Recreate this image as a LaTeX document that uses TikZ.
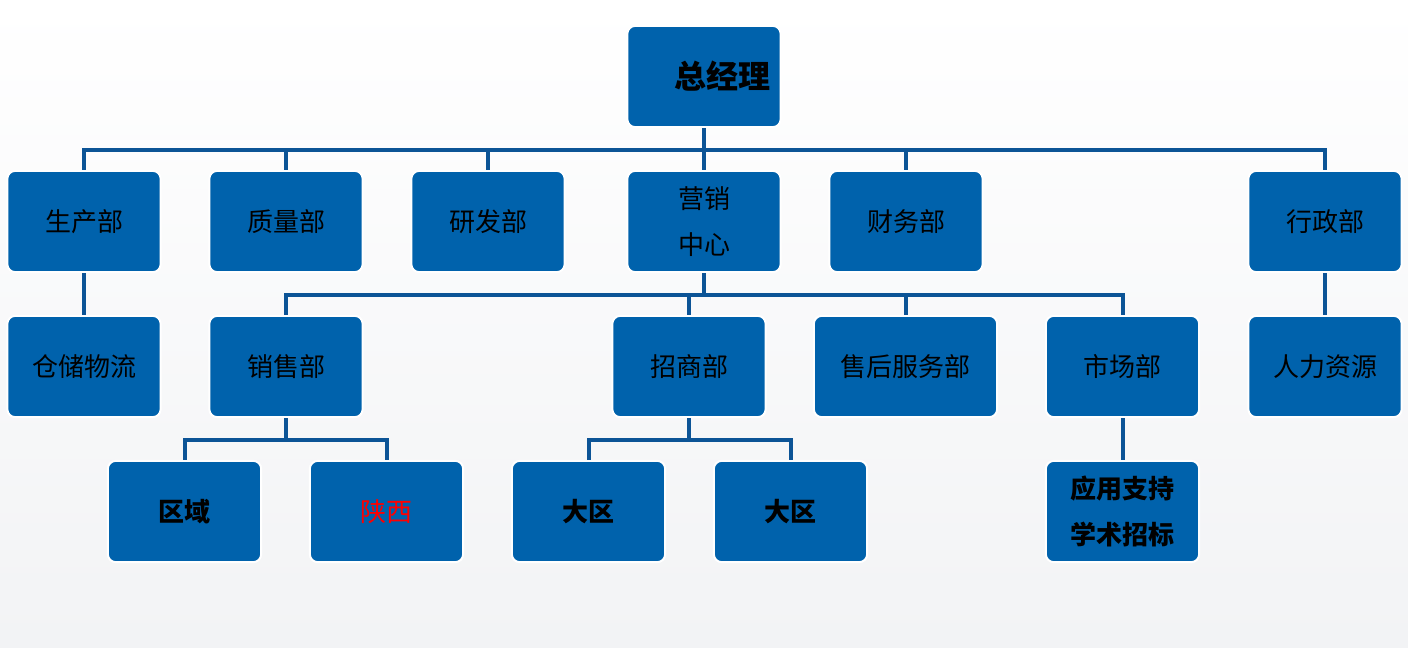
\documentclass[tikz,border=0pt]{standalone}
\usepackage{fontspec}
\newfontfamily\cjk{Noto Sans CJK SC}
\definecolor{boxblue}{RGB}{0,98,172}
\definecolor{lineblue}{RGB}{12,84,150}
\definecolor{bgrey}{RGB}{242,243,245}
\tikzset{
  orgbox/.style={rectangle, rounded corners=6pt, fill=boxblue, draw=white, line width=1.5pt,
    minimum width=115pt, minimum height=76pt, inner sep=1pt, text=black, align=center,
    font=\cjk\fontsize{19.5}{34.5}\selectfont},
  boldbox/.style={orgbox, font=\cjk\bfseries\fontsize{19.5}{34}\selectfont},
  link/.style={draw=lineblue, line width=3pt},
}
\begin{document}
\begin{tikzpicture}[x=0.75pt,y=0.75pt,yscale=-1,xscale=1]
	% background
	\useasboundingbox (0,0) rectangle (1408,647);
	\shade [top color=white, bottom color=bgrey] (0,0) rectangle (1408,647);
	
	% top
	\node [orgbox, font=\cjk\bfseries\fontsize{24}{28}\selectfont] (zjl) at (704,76.5) {\hspace*{27pt}总经理};
	
	% first level
	\node [orgbox] (scb) at (84,221.5) {生产部};
	\node [orgbox] (zlb) at (286,221.5) {质量部};
	\node [orgbox] (yfb) at (488,221.5) {研发部};
	\node [orgbox] (yxzx) at (704,221.5) {营销\\中心};
	\node [orgbox] (cwb) at (906,221.5) {财务部};
	\node [orgbox] (xzb) at (1325,221.5) {行政部};
	
	% second level
	\node [orgbox] (ccwl) at (84,366.5) {仓储物流};
	\node [orgbox] (xsb) at (286,366.5) {销售部};
	\node [orgbox] (zsb) at (689,366.5) {招商部};
	\node [orgbox, minimum width=137.5pt] (shfw) at (905.5,366.5) {售后服务部};
	\node [orgbox] (sccb) at (1122.5,366.5) {市场部};
	\node [orgbox] (rlzy) at (1325,366.5) {人力资源};
	
	% third level
	\node [boldbox] (qy) at (184.5,511.5) {区域};
	\node [orgbox, text=red] (sx) at (386.5,511.5) {陕西};
	\node [boldbox] (dqa) at (588.5,511.5) {大区};
	\node [boldbox] (dqb) at (790.5,511.5) {大区};
	\node [boldbox] (yyzc) at (1122.5,511.5) {应用支持\\学术招标};
	
	% buses
	\coordinate (bus1) at (704,150);
	\coordinate (bus2) at (704,295);
	\coordinate (bus3a) at (286,440);
	\coordinate (bus3b) at (689,440);
	
	% connectors
	\foreach \c in {scb,zlb,yfb,yxzx,cwb,xzb}
		\draw [link] (zjl.south) -- (bus1) -| (\c.north);
	\foreach \c in {xsb,zsb,shfw,sccb}
		\draw [link] (yxzx.south) -- (bus2) -| (\c.north);
	\foreach \c in {qy,sx}
		\draw [link] (xsb.south) -- (bus3a) -| (\c.north);
	\foreach \c in {dqa,dqb}
		\draw [link] (zsb.south) -- (bus3b) -| (\c.north);
	\draw [link] (scb) -- (ccwl);
	\draw [link] (xzb) -- (rlzy);
	\draw [link] (sccb) -- (yyzc);
	
\end{tikzpicture}
\end{document}
